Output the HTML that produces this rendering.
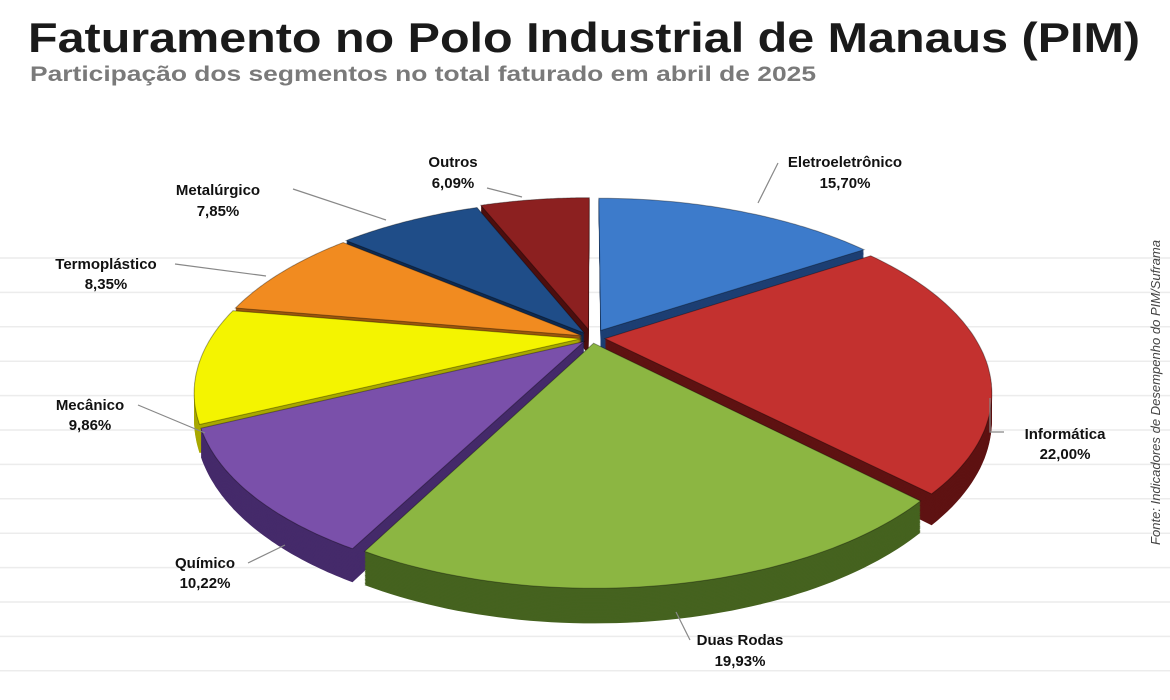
<!DOCTYPE html>
<html><head><meta charset="utf-8">
<style>
html,body{margin:0;padding:0;background:#fff;}
body{width:1170px;height:700px;overflow:hidden;position:relative;font-family:"Liberation Sans",sans-serif;}
svg{position:absolute;left:0;top:0;}
</style></head>
<body>
<svg id="s" width="1170" height="700" viewBox="0 0 1170 700" xmlns="http://www.w3.org/2000/svg">
<g id="grid" stroke="#ececec" stroke-width="1.5"></g>
<g id="pie"></g>
<text x="28" y="52" font-family="Liberation Sans,sans-serif" font-weight="bold" font-size="42" fill="#1a1a1a" textLength="1112" lengthAdjust="spacingAndGlyphs">Faturamento no Polo Industrial de Manaus (PIM)</text>
<text x="30" y="81" font-family="Liberation Sans,sans-serif" font-weight="bold" font-size="21" fill="#7a7a7a" textLength="786" lengthAdjust="spacingAndGlyphs">Participação dos segmentos no total faturado em abril de 2025</text>
<text transform="translate(1160,545) rotate(-90)" font-family="Liberation Sans,sans-serif" font-style="italic" font-size="13" fill="#444" textLength="305" lengthAdjust="spacingAndGlyphs">Fonte: Indicadores de Desempenho do PIM/Suframa</text>
<g stroke="#888" stroke-width="1.2" fill="none">
<polyline points="487,188 522,197"/>
<polyline points="778,163 758,203"/>
<polyline points="293,189 386,220"/>
<polyline points="175,264 266,276"/>
<polyline points="138,405 205,433"/>
<polyline points="990,398 990,432 1004,432"/>
<polyline points="248,563 285,545"/>
<polyline points="690,640 676,612"/>
</g>
<g font-family="Liberation Sans,sans-serif" font-weight="bold" font-size="15" fill="#111" text-anchor="middle">
<text x="453" y="167">Outros</text><text x="453" y="188">6,09%</text>
<text x="845" y="167">Eletroeletrônico</text><text x="845" y="188">15,70%</text>
<text x="218" y="195">Metalúrgico</text><text x="218" y="216">7,85%</text>
<text x="106" y="269">Termoplástico</text><text x="106" y="289">8,35%</text>
<text x="90" y="410">Mecânico</text><text x="90" y="430">9,86%</text>
<text x="1065" y="439">Informática</text><text x="1065" y="459">22,00%</text>
<text x="205" y="568">Químico</text><text x="205" y="588">10,22%</text>
<text x="740" y="645">Duas Rodas</text><text x="740" y="666">19,93%</text>
</g>
</svg>
<script>
(function(){
var NS="http://www.w3.org/2000/svg";
var grid=document.getElementById('grid');
for(var y=258;y<700;y+=34.4){var l=document.createElementNS(NS,'line');l.setAttribute('x1',0);l.setAttribute('x2',1170);l.setAttribute('y1',y.toFixed(1));l.setAttribute('y2',y.toFixed(1));grid.appendChild(l);}
var data=[
["Eletro",15.70,"#3d7bcb","#1d3f73",0.05],
["Info",22.00,"#c3312f","#5e1212",0.035],
["Duas",19.93,"#8cb642","#45621f",0.03],
["Quim",10.22,"#7a50aa","#452a6a",0.03],
["Mec",9.86,"#f4f400","#a8a800",0.03],
["Termo",8.35,"#f18b20","#9a560d",0.03],
["Metal",7.85,"#1f4d88","#0f2a50",0.035],
["Outros",6.09,"#8c2020","#4d0f0f",0.05]];
var cx=592,cy=363,A=370,B=180,K=0.28,D=25;
function P(gx,gz,h){var s=1/(1-K*gz);return [cx+A*gx*s, cy+B*gz*s - h*s];}
var slices=[],acc=0;
data.forEach(function(d){var a0=acc/100*2*Math.PI;acc+=d[1];var a1=acc/100*2*Math.PI;var m=(a0+a1)/2;
slices.push({a0:a0,a1:a1,m:m,top:d[2],side:d[3],off:d[4],z:-Math.cos(m)});});
slices.sort(function(a,b){return a.z-b.z;});
var pie=document.getElementById('pie');
slices.forEach(function(s){
var ox=Math.sin(s.m)*s.off, oz=-Math.cos(s.m)*s.off;
function poly(h){var pts=[];var p=P(ox,oz,h);pts.push(p);var n=60;
for(var i=0;i<=n;i++){var t=s.a0+(s.a1-s.a0)*i/n;pts.push(P(ox+Math.sin(t),oz-Math.cos(t),h));}
return pts.map(function(q){return q[0].toFixed(1)+","+q[1].toFixed(1);}).join(" ");}
for(var h=0;h<D;h+=1){var e=document.createElementNS(NS,'polygon');e.setAttribute('points',poly(h));e.setAttribute('fill',s.side);pie.appendChild(e);}
var t=document.createElementNS(NS,'polygon');t.setAttribute('points',poly(D));t.setAttribute('fill',s.top);t.setAttribute('stroke','rgba(0,0,0,0.35)');t.setAttribute('stroke-width','1');pie.appendChild(t);
});
})();
</script>
</body></html>
